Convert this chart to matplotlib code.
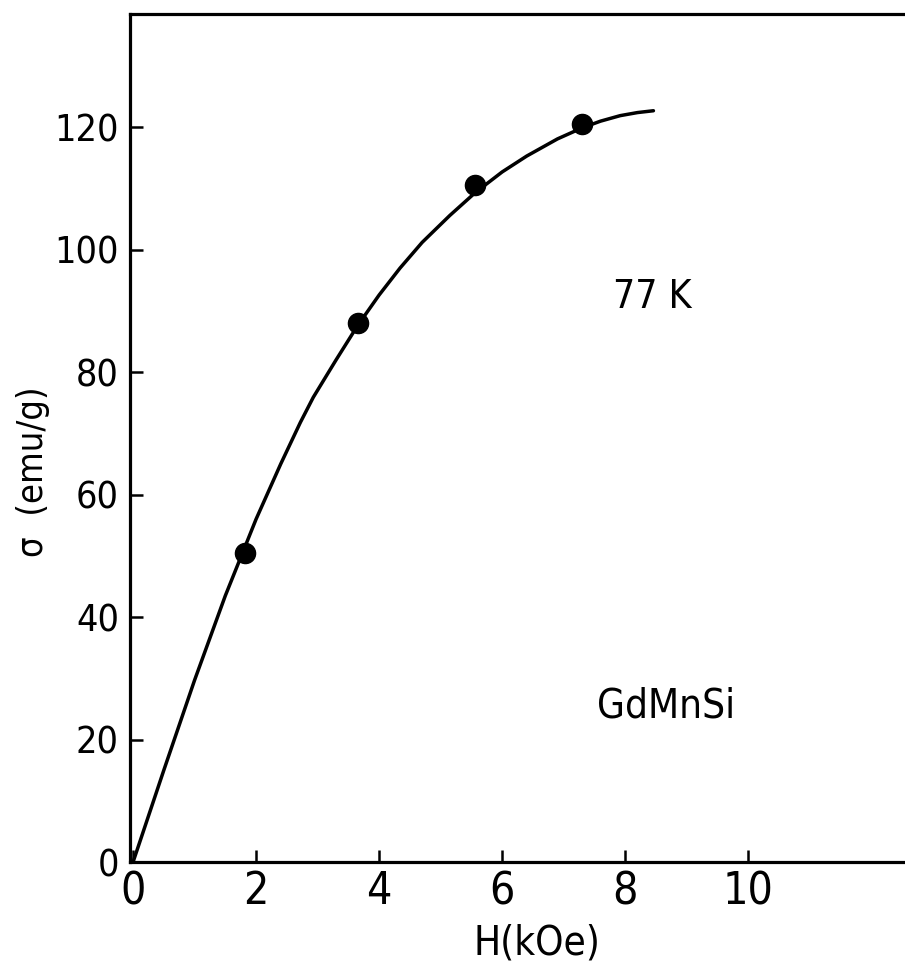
import matplotlib
matplotlib.use("Agg")
import matplotlib.pyplot as plt

# Magnetisation of GdMnSi at 77 K versus applied field
field_kOe = [1.82, 3.65, 5.56, 7.30]
sigma_emu_g = [50.5, 88.0, 110.5, 120.5]

# Hand-drawn guide curve through the measurements
curve_H = [0.0, 0.5, 1.0, 1.5, 2.0, 2.4, 2.72, 2.93, 3.3, 3.65, 4.0, 4.34,
           4.7, 5.15, 5.56, 6.0, 6.4, 6.9, 7.3, 7.6, 7.92, 8.2, 8.46]
curve_sigma = [0.0, 15.0, 29.7, 43.5, 56.0, 65.0, 71.8, 75.9, 82.0, 87.6,
               92.6, 97.0, 101.2, 105.6, 109.3, 112.7, 115.3, 118.1, 119.9,
               121.0, 121.9, 122.4, 122.7]

x_ticks = [0, 2, 4, 6, 8, 10]
y_ticks = [0, 20, 40, 60, 80, 100, 120]

plt.rcParams["font.family"] = ["DejaVu Sans"]
plt.rcParams["font.stretch"] = "condensed"
TXT = dict(family="DejaVu Sans", stretch="condensed")

fig = plt.figure(figsize=(9.05, 9.63), dpi=100)
ax = fig.add_axes([130 / 905, 101 / 963, 1 - 130 / 905, 848 / 963])

ax.plot(curve_H, curve_sigma, color="black", lw=2.5, solid_capstyle="round",
        solid_joinstyle="round", clip_on=False)
ax.plot(field_kOe, sigma_emu_g, "o", color="black", ms=14.5, zorder=3)

ax.set_xlim(-0.05, 12.55)
ax.set_ylim(0.2, 138.5)

ax.spines["right"].set_visible(False)
for side in ("left", "top", "bottom"):
    ax.spines[side].set_linewidth(2.3)

ax.set_xticks(x_ticks)
ax.set_yticks(y_ticks)
ax.set_xticklabels([str(v) for v in x_ticks], fontsize=32, **TXT)
ax.set_yticklabels([str(v) for v in y_ticks], fontsize=27, **TXT)
ax.tick_params(axis="both", direction="in", length=9, width=1.8, color="black")
ax.tick_params(axis="y", pad=8)
ax.tick_params(axis="x", pad=6)

ax.set_xlabel("H(kOe)", fontsize=29, **TXT)
ax.xaxis.set_label_coords(0.525, -0.073)
ax.xaxis.label.set_va("top")
ax.set_ylabel("σ  (emu/g)", fontsize=26, **TXT)
ax.yaxis.set_label_coords(-0.103, 0.46)

ax.text(7.8, 92.2, "77 K", fontsize=28, va="center", ha="left", **TXT)
ax.text(7.54, 25.4, "GdMnSi", fontsize=29, va="center", ha="left", **TXT)

fig.savefig("out.png", dpi=100, facecolor="white")
